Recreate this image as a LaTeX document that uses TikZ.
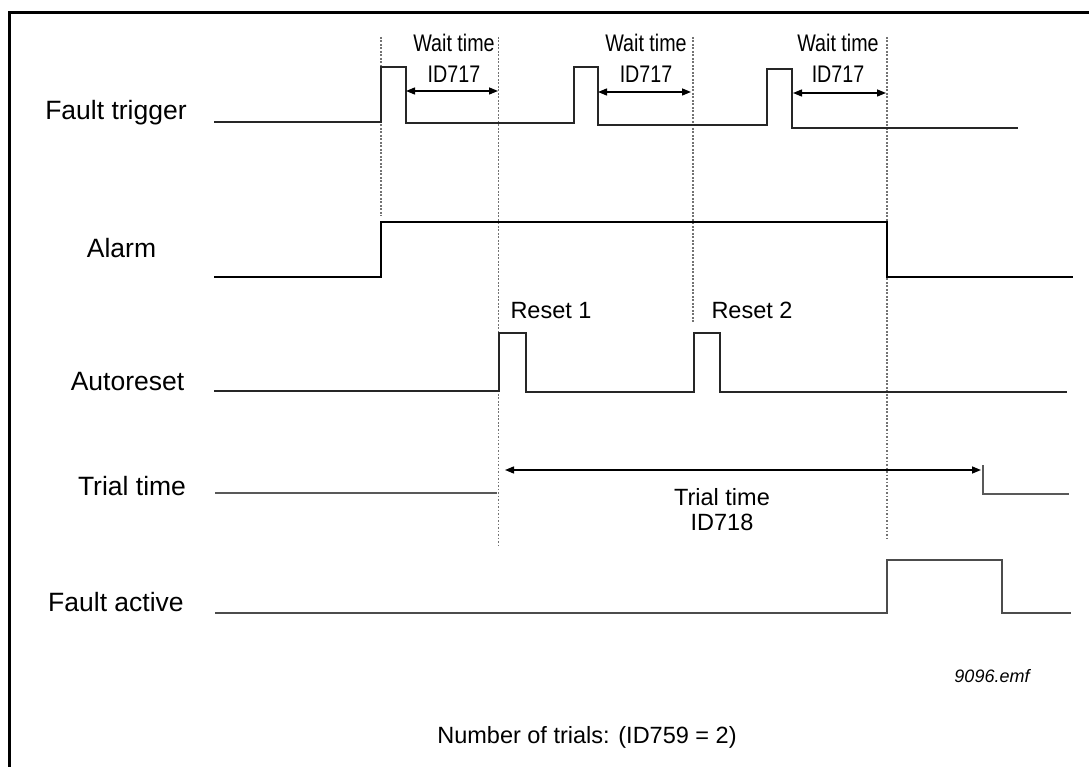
\documentclass[tikz,border=0pt]{standalone}
\usepackage{fontspec}
\setmainfont{Liberation Sans}
\newfontfamily\narrowsans{Liberation Sans}[FakeStretch=0.82]
\usetikzlibrary{arrows.meta}

\begin{document}
\begin{tikzpicture}[x=1pt, y=-1pt,
  sig/.style={line width=1.8pt, draw=black!85},
  guide/.style={line width=1.6pt, draw=black!55, dash pattern=on 1.6pt off 1.9pt},
  span/.style={{Triangle[length=9pt,width=7pt]}-{Triangle[length=9pt,width=7pt]},
               line width=1.4pt, draw=black},
  rowlbl/.style={anchor=base, inner sep=0pt, font=\fontsize{26.5}{31}\selectfont},
  waitlbl/.style={anchor=south, inner sep=0pt, align=center,
                  font=\narrowsans\fontsize{24}{31}\selectfont},
  tag/.style={anchor=base, inner sep=0pt, font=\fontsize{23.5}{25}\selectfont}]
  \useasboundingbox (0,0) rectangle (1089,767);
  % frame, top and left edge
  \draw[line width=3pt] (9.5,767) -- (9.5,13) -- (1089,13);

  % row names
  \node[rowlbl] (lftrig) at (116,120) {Fault trigger};
  \node[rowlbl] (lalarm) at (121.5,258) {Alarm};
  \node[rowlbl] (lauto) at (127.5,390) {Autoreset};
  \node[rowlbl] (ltrial) at (132,495) {Trial time};
  \node[rowlbl] (lfault) at (116,611) {Fault active};

  % event guides
  \draw[guide] (381,37) -- (381,216);
  \draw[guide] (498.5,37) -- (498.5,547);
  \draw[guide] (693,37) -- (693,323);
  \draw[guide] (887,37) -- (887,540);

  % signals
  \draw[sig] (214,122) -| (381,67) -| (406,123) -| (574,67) -| (598,125)
    -| (767,69) -| (792,128) -- (1018,128);
  \draw[sig, draw=black] (214,277) -| (381,222) -| (887,277) -- (1073,277);
  \draw[sig] (214,391) -| (499,333) -| (526,392) -| (694,333) -| (720,392)
    -- (1067,392);
  \draw[sig, draw=black!65] (215,493) -- (497,493);
  \draw[sig, draw=black!65] (983,465) |- (1069,494);
  \draw[sig, draw=black!70] (215,613) -| (887,560) -| (1002,613) -- (1071,613);

  % wait time spans
  \coordinate (w1a) at (406,91);
  \coordinate (w1b) at (498,91);
  \coordinate (w2a) at (598,92);
  \coordinate (w2b) at (691,92);
  \coordinate (w3a) at (793,93);
  \coordinate (w3b) at (886,93);
  \draw[span] (w1a) -- (w1b);
  \draw[span] (w2a) -- (w2b);
  \draw[span] (w3a) -- (w3b);
  \node[waitlbl] (wt1) at (454,83) {Wait time\\ID717};
  \node[waitlbl] (wt2) at (646,83) {Wait time\\ID717};
  \node[waitlbl] (wt3) at (838,83) {Wait time\\ID717};

  % trial time span
  \coordinate (tra) at (505,470);
  \coordinate (trb) at (981,470);
  \draw[span] (tra) -- (trb);
  \node[tag, anchor=south, align=center] (trl) at (722,531) {Trial time\\ID718};

  \node[tag] (rst1) at (551,318) {Reset 1};
  \node[tag] (rst2) at (752,318) {Reset 2};
  \node[tag, font=\itshape\fontsize{18}{20}\selectfont] (fname) at (992,682) {9096.emf};
  \node[tag] (ntrials) at (587,743) {Number of trials: (ID759 = 2)};
\end{tikzpicture}
\end{document}
